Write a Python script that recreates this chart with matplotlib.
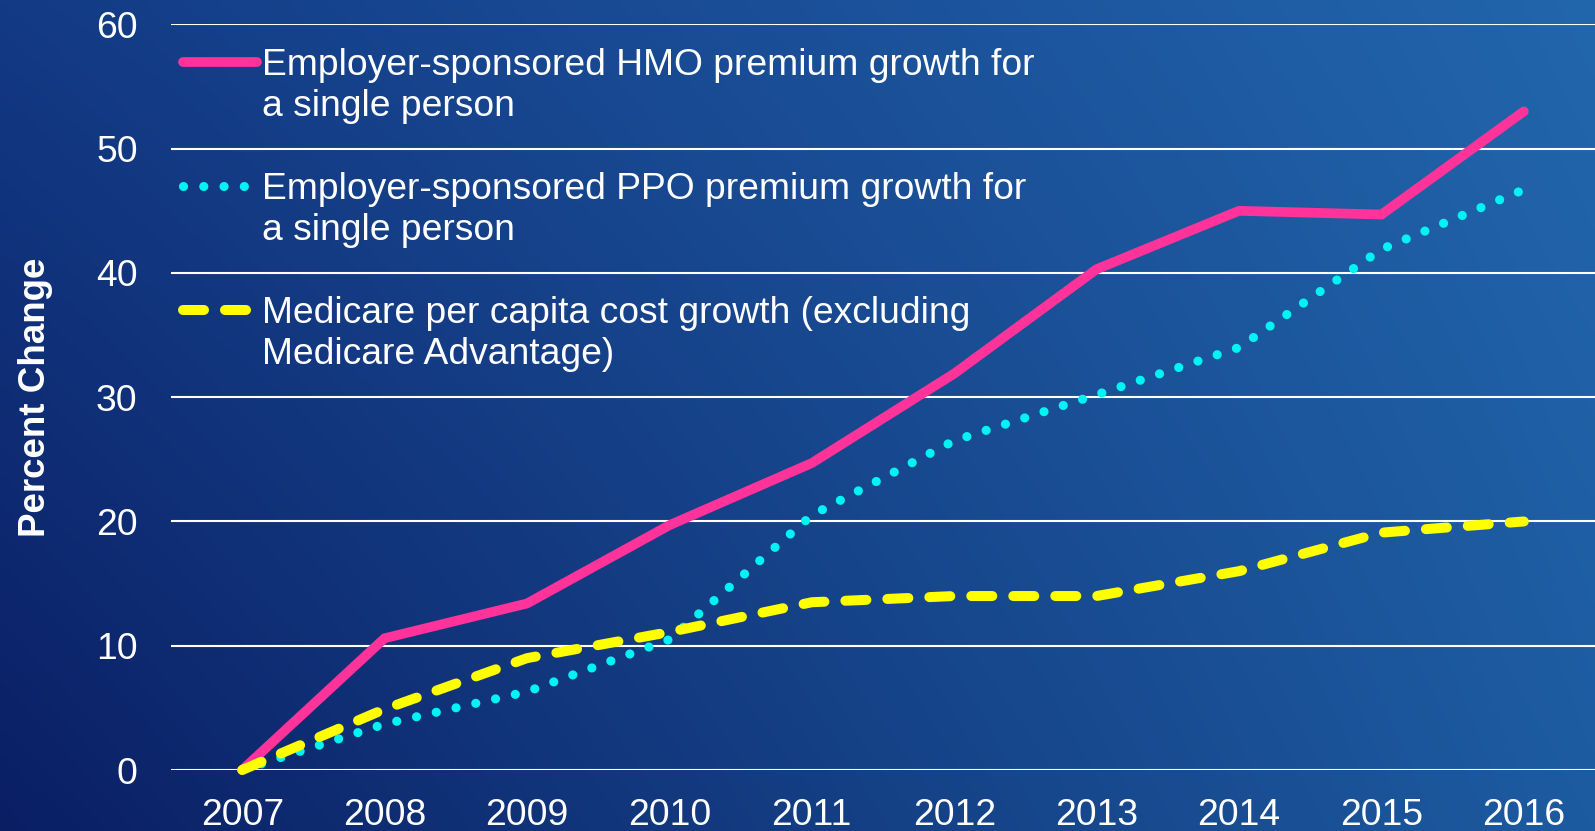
import numpy as np
import matplotlib
matplotlib.use("Agg")
import matplotlib.pyplot as plt
from matplotlib.lines import Line2D

# ---- data ----
years = [2007, 2008, 2009, 2010, 2011, 2012, 2013, 2014, 2015, 2016]
hmo = [0, 10.6, 13.4, 19.7, 24.7, 31.9, 40.3, 45.0, 44.7, 53.0]
ppo = [0, 3.7, 6.3, 10.5, 20.5, 26.5, 30.2, 34.0, 41.9, 46.7]
medicare = [0, 4.9, 9.0, 11.1, 13.5, 14.0, 14.0, 16.0, 19.1, 20.0]
yticks = [0, 10, 20, 30, 40, 50, 60]
xtick_labels = [str(y) for y in years]
hmo_label = ["Employer-sponsored HMO premium growth for", "a single person"]
ppo_label = ["Employer-sponsored PPO premium growth for", "a single person"]
med_label = ["Medicare per capita cost growth (excluding", "Medicare Advantage)"]
ylabel = "Percent Change"

# ---- style ----
plt.rcParams['font.family'] = ['Liberation Sans', 'DejaVu Sans']
FS = 26.8
W, H = 1595, 831
fig = plt.figure(figsize=(W / 100, H / 100), dpi=100)

# gradient background
bg = fig.add_axes([0, 0, 1, 1], zorder=-10)
tl = np.array([0x13, 0x3A, 0x85]) / 255
tr = np.array([0x22, 0x66, 0xAC]) / 255
bl = np.array([0x0A, 0x1E, 0x64]) / 255
br = np.array([0x1D, 0x5B, 0xA0]) / 255
u = np.linspace(0, 1, 400)[None, :, None]
v = np.linspace(0, 1, 200)[:, None, None]  # 0 = top
img = (1 - v) * ((1 - u) * tl + u * tr) + v * ((1 - u) * bl + u * br)
bg.imshow(img, extent=[0, 1, 0, 1], aspect='auto', interpolation='bilinear')
bg.set_axis_off()

left = 171 / W
bottom = 1 - 770 / H
top = 1 - 24.4 / H
ax = fig.add_axes([left, bottom, 1 - left, top - bottom])
ax.set_facecolor('none')

pink = '#FF3399'
cyan = '#00F4F4'
yellow = '#FFFF00'

ppo_style = dict(color=cyan, lw=6.6, linestyle=(0, (0.01, 2.2)),
                 dash_capstyle='round')
med_style = dict(color=yellow, lw=7.2, linestyle=(0, (2.1, 2.1)),
                 dash_capstyle='round')
hmo_style = dict(color=pink, lw=7.0, solid_capstyle='round')

ax.plot(years, hmo, solid_joinstyle='miter', clip_on=False, zorder=3,
        **hmo_style)
ax.plot(years, ppo, clip_on=False, zorder=3, **ppo_style)
ax.plot(years, medicare, clip_on=False, zorder=4, **med_style)

ax.set_xlim(2006.5, 2016.5)
ax.set_ylim(0, 60)
ax.set_yticks(yticks)
ax.set_xticks(years)
ax.set_xticklabels(xtick_labels)
ax.grid(axis='y', color='white', lw=1.5, zorder=1)
ax.set_axisbelow(True)
for s in ax.spines.values():
    s.set_visible(False)
ax.tick_params(axis='both', length=0, labelsize=FS, colors='white')
ax.tick_params(axis='y', pad=24)
ax.tick_params(axis='x', pad=20)

ax.set_ylabel(ylabel, fontsize=26.5, fontweight='bold', color='white')
ax.yaxis.set_label_coords(-0.083, 0.5)

# legend
h_hmo = Line2D([], [], **hmo_style)
h_ppo = Line2D([], [], **ppo_style)
h_med = Line2D([], [], **med_style)
blank = Line2D([], [], color='none', lw=0)
handles = [h_hmo, blank, blank, h_ppo, blank, blank, h_med, blank]
labels = [hmo_label[0], hmo_label[1], "", ppo_label[0], ppo_label[1], "",
          med_label[0], med_label[1]]
leg = ax.legend(handles, labels, loc='upper left',
                bbox_to_anchor=(12 / 1424, 0.9686), frameon=False,
                fontsize=FS, labelcolor='white', borderpad=0,
                borderaxespad=0, handlelength=2.0, handletextpad=0.13,
                labelspacing=0.17)

fig.savefig('out.png', dpi=100)
